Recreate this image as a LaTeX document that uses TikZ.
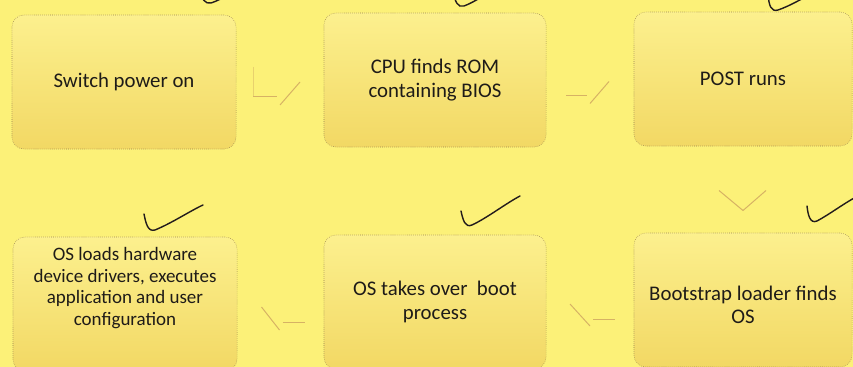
\documentclass[tikz,border=0pt]{standalone}
\usepackage{fontspec}
\setmainfont{Carlito}
\usetikzlibrary{positioning,calc}

\definecolor{paper}{RGB}{252,241,120}
\definecolor{boxtop}{RGB}{252,240,142}
\definecolor{boxbottom}{RGB}{242,216,100}
\definecolor{boxline}{RGB}{150,128,78}
\definecolor{chevron}{RGB}{214,178,100}
\definecolor{pen}{RGB}{35,28,28}
\definecolor{ink}{RGB}{30,27,24}

\tikzset{
  stepbox/.style={draw=boxline,densely dotted,thin,rectangle,rounded corners=0.3cm,
    top color=boxtop,bottom color=boxbottom,minimum width=5.6cm,minimum height=3.35cm,
    text=ink,align=center,font=\fontsize{14.8}{16.5}\selectfont},
  steptext/.style={text=ink,align=center,font=\fontsize{14.8}{16.5}\selectfont},
  faint/.style={draw=chevron,line width=0.7pt},
  tick/.style={draw=pen,line width=1pt,line cap=round}
}

\begin{document}
\begin{tikzpicture}[x=0.025cm,y=-0.025cm]
    \useasboundingbox (0,0) rectangle (853,367);
    \clip (0,0) rectangle (853,367);
    \fill[paper] (0,0) rectangle (853,367);

    \node[stepbox] (power) at (124,82) {Switch power on};
    \node[stepbox,minimum width=5.55cm] (rom) at (435,80) {CPU finds ROM\\containing BIOS};
    \node[stepbox,minimum width=5.45cm] (post) at (743,79) {POST runs};

    \node[stepbox] (drivers) at (125,304) {};
    \node[steptext,font=\fontsize{13.5}{15.5}\selectfont] (driverstext) at ($(drivers.center)+(0,-16)$) {OS loads hardware\\device drivers, executes\\application and user\\configuration};
    \node[stepbox,minimum width=5.55cm] (takeover) at (435,302) {OS takes over\ \ boot\\process};
    \node[stepbox,minimum width=5.45cm] (boot) at (743,300) {};
    \node[steptext] (boottext) at ($(boot.center)+(0,5)$) {Bootstrap loader finds\\OS};

    % faded arrows between the steps
    \begin{scope}[shift={($(power.east)!0.5!(rom.west)$)}]
      \draw[faint,draw opacity=0.5] (-27,-14) -- (-27,15);
      \draw[faint] (-27,15) -- (-3,15);
      \draw[faint] (0,24) -- (20,1);
    \end{scope}
    \begin{scope}[shift={($(rom.east)!0.5!(post.west)$)}]
      \draw[faint] (-24,16) -- (-3,16);
      \draw[faint] (0,24) -- (19,2);
    \end{scope}
    \begin{scope}[shift={($(post.south)!0.5!(boot.north)$)}]
      \draw[faint] (-24,1) -- (0,21) -- (23,1);
    \end{scope}
    \begin{scope}[shift={($(boot.west)!0.5!(takeover.east)$)}]
      \draw[faint] (-20,3) -- (0,25);
      \draw[faint] (3,18) -- (25,18);
    \end{scope}
    \begin{scope}[shift={($(takeover.west)!0.5!(drivers.east)$)}]
      \draw[faint] (-19,4) -- (-1,27);
      \draw[faint] (2,19) -- (24,19);
    \end{scope}

    % hand-drawn ticks
    \draw[tick] (199,-12) .. controls (202,0) and (205,4) .. (211,3) .. controls (220,0) and (230,-6) .. (240,-12);
    \draw[tick] (453,-9) .. controls (455,2) and (458,8) .. (464,6) .. controls (472,3) and (482,-3) .. (492,-10);
    \draw[tick] (768,-6) .. controls (769,6) and (771,12) .. (778,10) .. controls (790,6) and (805,-3) .. (822,-12);
    \draw[tick] (144,214) .. controls (146,224) and (148,232) .. (155,230) .. controls (172,223) and (190,211) .. (203,205);
    \draw[tick] (461,211) .. controls (463,220) and (465,228) .. (472,225) .. controls (487,218) and (505,204) .. (520,196);
    \draw[tick] (807,206) .. controls (808,215) and (810,224) .. (817,221) .. controls (830,214) and (843,204) .. (856,197);
\end{tikzpicture}
\end{document}
